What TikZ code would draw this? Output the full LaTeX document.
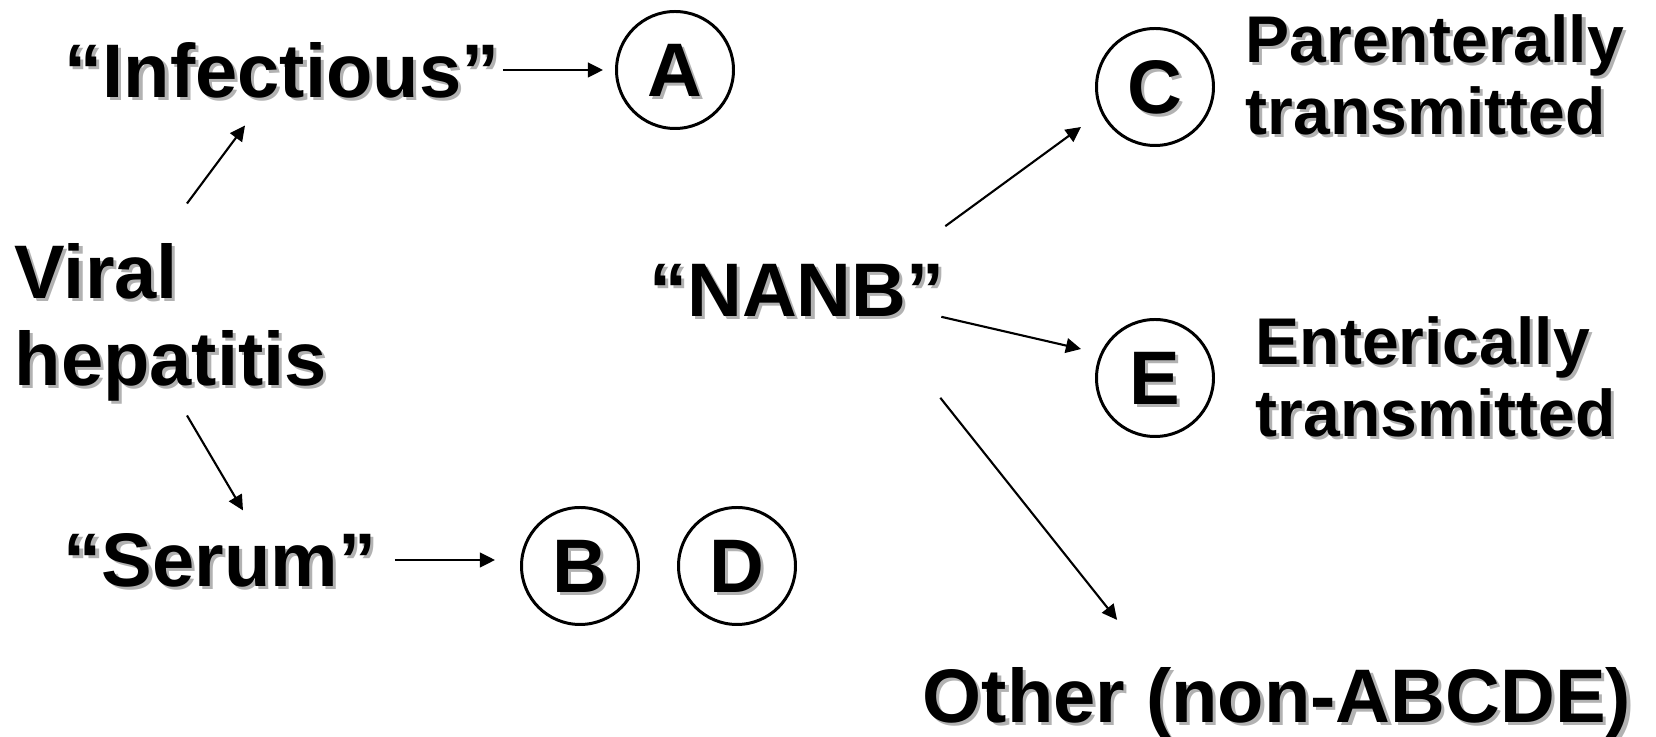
\documentclass[tikz,border=0pt]{standalone}
\usepackage{fontspec}
\setmainfont{Liberation Sans}
\usetikzlibrary{arrows.meta,calc}

\begin{document}
\begin{tikzpicture}[lbl/.style={font=\fontsize{21.6}{24.7}\selectfont\bfseries, inner sep=0pt, align=left},
small/.style={font=\fontsize{18.8}{20.5}\selectfont\bfseries, inner sep=0pt, align=left},
shade/.style={text=black!30, xshift=0.9pt, yshift=-0.9pt},
ring/.style={lbl, circle, draw, line width=0.85pt, minimum size=1.17cm},
arr/.style={-{Triangle[length=4.3pt,width=4.2pt]}, line width=0.6pt}]
\useasboundingbox (0,0) rectangle (16.56,-7.37);

\node[lbl, shade, anchor=west] at (0.14,-3.22) {Viral\\hepatitis};
\node[lbl, anchor=west] (viral) at (0.14,-3.22) {Viral\\hepatitis};
\node[lbl, shade] at (2.82,-0.70) {“Infectious”};
\node[lbl] (inf) at (2.82,-0.70) {“Infectious”};
\node[lbl, shade] at (2.20,-5.60) {“Serum”};
\node[lbl] (serum) at (2.20,-5.60) {“Serum”};
\node[lbl, shade] at (7.97,-2.90) {“NANB”};
\node[lbl] (nanb) at (7.97,-2.90) {“NANB”};

\node[lbl, shade] at (6.75,-0.70) {A};
\node[ring] (A) at (6.75,-0.70) {A};
\node[lbl, shade] at (5.80,-5.66) {B};
\node[ring] (B) at (5.80,-5.66) {B};
\node[lbl, shade] at (7.37,-5.66) {D};
\node[ring] (D) at (7.37,-5.66) {D};
\node[lbl, shade] at (11.55,-0.87) {C};
\node[ring] (C) at (11.55,-0.87) {C};
\node[lbl, shade] at (11.55,-3.78) {E};
\node[ring] (E) at (11.55,-3.78) {E};

\node[small, shade, anchor=west] at (12.45,-0.75) {Parenterally\\transmitted};
\node[small, anchor=west] (parent) at (12.45,-0.75) {Parenterally\\transmitted};
\node[small, shade, anchor=west] at (12.55,-3.77) {Enterically\\transmitted};
\node[small, anchor=west] (enter) at (12.55,-3.77) {Enterically\\transmitted};
\node[lbl, shade] at (12.77,-7.03) {Other (non-ABCDE)};
\node[lbl] (other) at (12.77,-7.03) {Other (non-ABCDE)};

\draw[arr] ([shift={(1.73,0.39)}]viral.north west) -- ([shift={(-0.37,-0.27)}]inf.south);
\draw[arr] ([shift={(1.73,-0.14)}]viral.south west) -- ([shift={(0.23,0.22)}]serum.north);
\draw[arr] ([xshift=0.03cm]inf.east) -- ($(A.west |- inf.east)+(-0.12,0)$);
\draw[arr] ([xshift=0.18cm]serum.east) -- ($(B.west |- serum.east)+(-0.25,0)$);
\draw[arr] ([shift={(0,0.37)}]nanb.north east) -- ([shift={(-0.14,-0.40)}]C.west);
\draw[arr] ([shift={(-0.04,0)}]nanb.south east) -- ([shift={(-0.14,0.29)}]E.west);
\draw[arr] ([shift={(-0.05,-0.81)}]nanb.south east) -- ([shift={(1.95,0.47)}]other.north west);
\end{tikzpicture}
\end{document}
